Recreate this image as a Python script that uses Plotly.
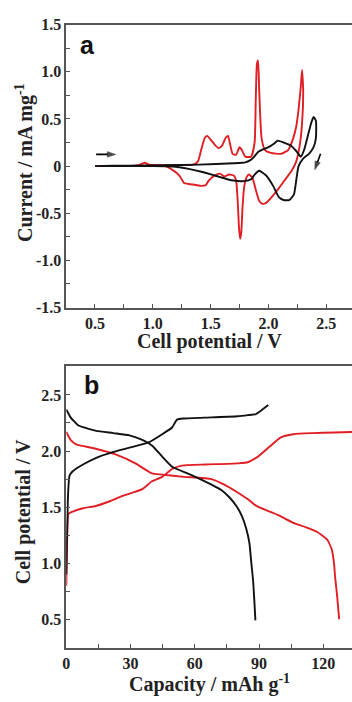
import plotly.graph_objects as go

# ---------- Panel a: cyclic voltammetry ----------
cv_black_v = [0.5, 0.8, 1.1, 1.4, 1.7, 1.8, 1.84, 1.87, 1.91, 1.96, 2.0, 2.05, 2.08, 2.13, 2.19, 2.24, 2.28,
              2.31, 2.34, 2.37, 2.39,
              2.41, 2.41, 2.39, 2.35, 2.30, 2.26, 2.24, 2.22, 2.18, 2.13, 2.09, 2.04, 1.98, 1.92, 1.88, 1.85,
              1.79, 1.68, 1.59, 1.51, 1.42, 1.31, 1.17, 1.0, 0.8, 0.5]
cv_black_i = [0, 0.005, 0.01, 0.015, 0.03, 0.04, 0.06, 0.09, 0.15, 0.18, 0.20, 0.24, 0.27, 0.25, 0.22, 0.16, 0.10,
              0.18, 0.32, 0.46, 0.52,
              0.48, 0.30, 0.20, 0.13, 0.08, 0.0, -0.15, -0.30, -0.36, -0.36, -0.33, -0.21, -0.10, -0.05, -0.09, -0.14,
              -0.16, -0.15, -0.12, -0.09, -0.06, -0.03, -0.005, 0, 0, 0]

cv_red_v = [0.5, 0.85, 0.9, 0.93, 0.97, 1.05, 1.2, 1.35, 1.39, 1.42, 1.45, 1.47, 1.50, 1.54, 1.57, 1.60, 1.63,
            1.65, 1.67, 1.69, 1.72, 1.75, 1.77, 1.80, 1.85, 1.88, 1.89, 1.90, 1.91, 1.92, 1.94, 1.97, 2.02, 2.11,
            2.17, 2.21, 2.24, 2.26, 2.28, 2.29,
            2.30, 2.29, 2.27, 2.24, 2.20, 2.14, 2.08, 2.02, 1.98, 1.95, 1.92, 1.89, 1.86, 1.83, 1.81, 1.79, 1.775,
            1.765, 1.755, 1.745, 1.735, 1.72, 1.70, 1.66, 1.62, 1.58, 1.55, 1.51, 1.48, 1.46, 1.42, 1.37, 1.31,
            1.27, 1.23, 1.17, 1.11, 1.0, 0.9]
cv_red_i = [0, 0.005, 0.02, 0.035, 0.015, 0.01, 0.01, 0.015, 0.05, 0.18, 0.30, 0.32, 0.28, 0.22, 0.19, 0.22, 0.30,
            0.32, 0.22, 0.13, 0.12, 0.20, 0.17, 0.10, 0.10, 0.25, 0.70, 1.08, 1.12, 0.80, 0.30, 0.17, 0.14, 0.13,
            0.17, 0.28, 0.42, 0.60, 0.85, 1.02,
            0.80, 0.45, 0.22, 0.05, -0.05, -0.15, -0.25, -0.34, -0.39, -0.40, -0.37, -0.25, -0.12, -0.09, -0.12,
            -0.22, -0.45, -0.70, -0.77, -0.65, -0.40, -0.15, -0.10, -0.09, -0.11, -0.08, -0.09, -0.12, -0.16,
            -0.20, -0.21, -0.20, -0.19, -0.18, -0.10, -0.04, 0, 0, 0]

cv_xticks = [0.5, 1.0, 1.5, 2.0, 2.5]
cv_xticklabels = ["0.5", "1.0", "1.5", "2.0", "2.5"]
cv_yticks = [-1.5, -1.0, -0.5, 0, 0.5, 1.0, 1.5]
cv_yticklabels = ["-1.5", "-1.0", "-0.5", "0", "0.5", "1.0", "1.5"]

# ---------- Panel b: charge / discharge ----------
gcd_black_chg_q = [0, 0.3, 0.8, 1.5, 3, 7.8, 14, 21.7, 29.5, 38.7, 44.8, 49.4, 51.7, 55, 67.8, 80, 84.8, 88.6, 90.9, 94.3]
gcd_black_chg_v = [0.9, 1.2, 1.6, 1.78, 1.82, 1.88, 1.94, 1.99, 2.03, 2.08, 2.15, 2.21, 2.28, 2.29, 2.30, 2.31, 2.32,
                   2.33, 2.36, 2.41]
gcd_black_dis_q = [0, 2, 5.5, 10, 14, 22, 29.5, 35.5, 40, 44.8, 49.4, 58, 67.8, 72.5, 76, 79.4, 82, 84, 85.5, 86.3,
                   87.2, 87.7, 88.3]
gcd_black_dis_v = [2.37, 2.30, 2.23, 2.20, 2.18, 2.16, 2.14, 2.10, 2.05, 1.95, 1.86, 1.79, 1.70, 1.65, 1.59, 1.51,
                   1.42, 1.31, 1.18, 1.02, 0.85, 0.70, 0.49]
gcd_red_chg_q = [0, 0.3, 0.6, 1, 3, 7.8, 13.8, 20, 26.3, 35.5, 40, 44.8, 49.4, 54, 65, 80, 84.8, 89.5, 95, 100, 106,
                 115, 125, 133.4]
gcd_red_chg_v = [0.8, 1.1, 1.35, 1.44, 1.46, 1.49, 1.51, 1.55, 1.60, 1.66, 1.73, 1.77, 1.84, 1.87, 1.88, 1.89, 1.90,
                 1.95, 2.04, 2.12, 2.15, 2.16, 2.165, 2.17]
gcd_red_dis_q = [0, 2, 4.6, 9, 13.8, 23, 32.3, 40, 44.8, 55, 67.8, 73.8, 80, 84.8, 88, 91, 98.8, 106, 112, 117,
                 121.8, 124, 125, 125.5, 126.5, 127.4]
gcd_red_dis_v = [2.17, 2.10, 2.06, 2.04, 2.02, 1.97, 1.89, 1.80, 1.79, 1.77, 1.75, 1.70, 1.63, 1.57, 1.52, 1.49,
                 1.43, 1.36, 1.32, 1.28, 1.21, 1.12, 1.0, 0.88, 0.7, 0.50]

gcd_xticks = [0, 30, 60, 90, 120]
gcd_xticklabels = ["0", "30", "60", "90", "120"]
gcd_yticks = [0.5, 1.0, 1.5, 2.0, 2.5]
gcd_yticklabels = ["0.5", "1.0", "1.5", "2.0", "2.5"]

# scan-direction arrows (tail -> head, data units of panel a)
arrow_right_v = [0.51, 0.68]
arrow_right_i = [0.124, 0.124]
arrow_down_v = [2.45, 2.40]
arrow_down_i = [0.13, -0.04]

RED = "#e01e24"
BLACK = "#111111"
AXC = "#555555"
W, H = 352, 702

fig = go.Figure()
line_kw = dict(shape="spline", smoothing=0.5)

fig.add_trace(go.Scatter(x=cv_red_v, y=cv_red_i, mode="lines", line=dict(color=RED, width=1.9, **line_kw),
                         xaxis="x", yaxis="y", showlegend=False))
fig.add_trace(go.Scatter(x=cv_black_v, y=cv_black_i, mode="lines", line=dict(color=BLACK, width=1.9, **line_kw),
                         xaxis="x", yaxis="y", showlegend=False))

for q, v, c in [(gcd_red_chg_q, gcd_red_chg_v, RED), (gcd_red_dis_q, gcd_red_dis_v, RED),
                (gcd_black_chg_q, gcd_black_chg_v, BLACK), (gcd_black_dis_q, gcd_black_dis_v, BLACK)]:
    fig.add_trace(go.Scatter(x=q, y=v, mode="lines", line=dict(color=c, width=1.9, **line_kw),
                             xaxis="x2", yaxis="y2", showlegend=False))

# arrows: line with an arrow marker at the head, oriented along the segment
for av, ai in [(arrow_right_v, arrow_right_i), (arrow_down_v, arrow_down_i)]:
    fig.add_trace(go.Scatter(x=av, y=ai, mode="lines+markers", xaxis="x", yaxis="y", showlegend=False,
                             line=dict(color="#000000", width=1.6),
                             marker=dict(symbol="arrow", angleref="previous", size=[0, 9], color="#000000",
                                         line=dict(width=0.5, color="#000000"))))

tickfont = dict(family="Liberation Serif", size=16, color="#222222", weight="bold")
axis_common = dict(showline=True, linecolor=AXC, linewidth=1.6, ticks="inside", ticklen=4, tickcolor=AXC,
                   tickwidth=1.2, showgrid=False, zeroline=False, tickfont=tickfont)

xa_dom = [63 / W, 1.0]
ya_dom = [1 - 307 / H, 1 - 17 / H]
yb_dom = [1 - 656 / H, 1 - 367 / H]

fig.update_layout(
    width=W, height=H, margin=dict(l=0, r=0, t=0, b=0),
    paper_bgcolor="white", plot_bgcolor="white",
    xaxis=dict(domain=xa_dom, anchor="y", range=[0.252, 2.722], tickvals=cv_xticks, ticktext=cv_xticklabels,
               mirror=True, minor=dict(ticks="inside", dtick=0.25, tick0=0, ticklen=4, tickcolor=AXC),
               **axis_common),
    yaxis=dict(domain=ya_dom, anchor="x", range=[-1.5, 1.5], tickvals=cv_yticks, ticktext=cv_yticklabels,
               minor=dict(ticks="inside", dtick=0.25, tick0=0, ticklen=4, tickcolor=AXC), **axis_common),
    xaxis2=dict(domain=xa_dom, anchor="y2", range=[0, 133.4], tickvals=gcd_xticks, ticktext=gcd_xticklabels,
                mirror=True, minor=dict(ticks="inside", dtick=15, tick0=0, ticklen=4, tickcolor=AXC),
                **axis_common),
    yaxis2=dict(domain=yb_dom, anchor="x2", range=[0.243, 2.757], tickvals=gcd_yticks, ticktext=gcd_yticklabels,
                minor=dict(ticks="inside", dtick=0.25, tick0=0, ticklen=4, tickcolor=AXC), **axis_common),
)

title_font = dict(family="Liberation Serif", size=20, color="#222222", weight="bold")
letter_font = dict(family="Liberation Sans", size=25, color="#111111", weight="bold")
ann = [
    dict(text="Cell potential / V", x=(63 + 352) / 2 / W, y=1 - 342 / H, xref="paper", yref="paper",
         showarrow=False, font=title_font, xanchor="center", yanchor="middle"),
    dict(text="Current / mA mg<sup>-1</sup>", x=20 / W, y=1 - 158 / H, xref="paper", yref="paper",
         showarrow=False, font=title_font, textangle=-90, xanchor="center", yanchor="middle"),
    dict(text="Capacity / mAh g<sup>-1</sup>", x=(63 + 352) / 2 / W, y=1 - 692 / H, xref="paper", yref="paper",
         showarrow=False, font=title_font, xanchor="center", yanchor="middle"),
    dict(text="Cell potential / V", x=20 / W, y=1 - 516 / H, xref="paper", yref="paper",
         showarrow=False, font=title_font, textangle=-90, xanchor="center", yanchor="middle"),
    dict(text="a", x=84 / W, y=1 - 38 / H, xref="paper", yref="paper", showarrow=False, font=letter_font,
         xanchor="center", yanchor="middle"),
    dict(text="b", x=88 / W, y=1 - 386 / H, xref="paper", yref="paper", showarrow=False, font=letter_font,
         xanchor="center", yanchor="middle"),
]
fig.update_layout(annotations=ann)

fig.write_html("out.html")
